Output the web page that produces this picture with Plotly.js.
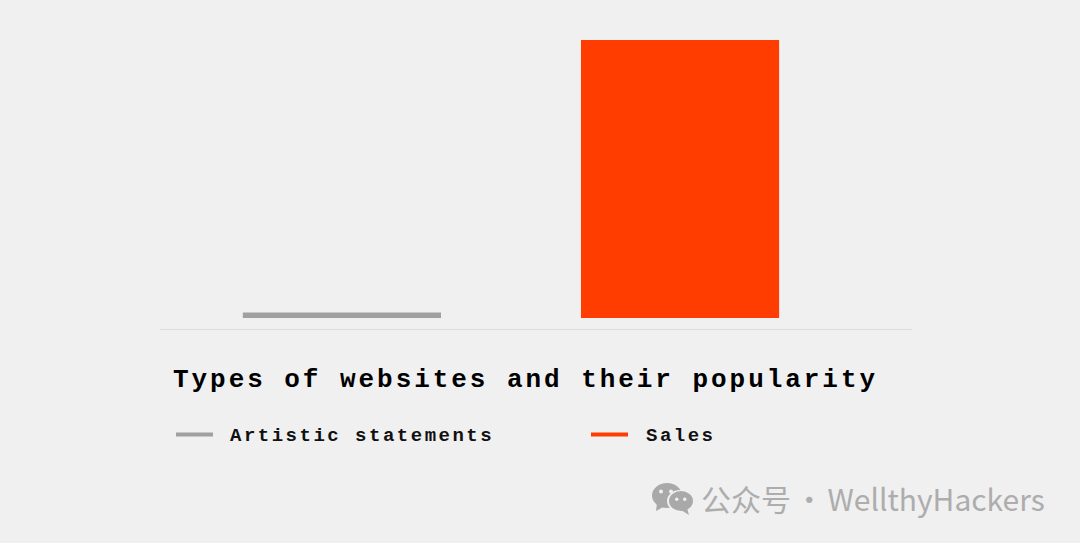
<!DOCTYPE html>
<html><head><meta charset="utf-8">
<script src="https://cdn.plot.ly/plotly-3.0.0.min.js"></script>
<style>
html,body{margin:0;padding:0;background:#f0f0f0;}
#c{width:1080px;height:543px;}
.annotation[data-index="0"] .annotation-text{letter-spacing:2.95px;}
.annotation[data-index="1"] .annotation-text,.annotation[data-index="2"] .annotation-text{letter-spacing:2.5px;}
.annotation[data-index="3"] .annotation-text{word-spacing:-3.5px;}
</style></head><body><div id="c"></div>
<script>
const categories = ["Artistic statements", "Sales"];
const popularity = [2, 100];
const barColors = ["#a0a0a0", "#ff3d00"];
const chartTitle = "Types of websites and their popularity";
const watermark = "公众号 · WellthyHackers";

const W = 1080, H = 543, L = 160, R = 912, T = 40, B = 329;
const px = x => (x - L) / (R - L);
const py = y => (B - y) / (B - T);
const mono = "'Liberation Mono','DejaVu Sans Mono',monospace";
const label = (text, x, y, size, color, family, weight) => ({
  text, xref: "paper", yref: "paper", x: px(x), y: py(y), xanchor: "left", yanchor: "middle",
  showarrow: false, align: "left", font: {family, size, color, weight: weight || 400}
});
const bubble = (x0, y0, x1, y1, color) => ({
  type: "circle", xref: "paper", yref: "paper", x0: px(x0), x1: px(x1), y0: py(y0), y1: py(y1),
  fillcolor: color, line: {width: 0}
});
const swatch = (x0, x1, y, color) => ({
  type: "line", xref: "paper", yref: "paper", x0: px(x0), x1: px(x1), y0: py(y), y1: py(y),
  line: {color, width: 4}
});
const tail = (pts, color) => ({
  type: "path", xref: "paper", yref: "paper",
  path: "M" + pts.map(p => px(p[0]) + "," + py(p[1])).join("L") + "Z",
  fillcolor: color, line: {width: 0}
});
const iconGrey = "#a9a9a9", bg = "#f0f0f0";

Plotly.newPlot("c", [{
  type: "bar", x: categories, y: popularity, width: 0.586,
  marker: {color: barColors, line: {width: 0}}, hoverinfo: "x+y"
}], {
  width: W, height: H, showlegend: false,
  paper_bgcolor: bg, plot_bgcolor: bg,
  margin: {l: L, r: W - R, t: T, b: H - B, pad: 0},
  xaxis: {type: "category", range: [-0.538, 1.686], showticklabels: false, ticks: "",
    showgrid: false, zeroline: false, showline: true, linecolor: "#dddddd", linewidth: 1},
  yaxis: {range: [-3.96, 100], showticklabels: false, ticks: "", showgrid: false, zeroline: false, showline: false},
  annotations: [
    label(chartTitle, 170.5, 380, 26, "#000000", mono, 700),
    label(categories[0], 228, 436, 19, "#111111", mono, 700),
    label(categories[1], 644, 436, 19, "#111111", mono, 700),
    label(watermark, 698.5, 498, 30, "#adadad", "'Noto Sans CJK SC','Noto Sans',sans-serif", 400)
  ],
  shapes: [
    swatch(176, 213, 434.5, barColors[0]),
    swatch(591, 628, 434.5, barColors[1]),
    bubble(652, 483, 682, 508, iconGrey),
    tail([[657, 503], [656, 511], [665, 506]], iconGrey),
    bubble(667, 490, 693, 512, bg),
    bubble(669, 491, 693, 511, iconGrey),
    tail([[687, 508], [689, 515], [681, 510]], iconGrey),
    bubble(659, 489.5, 663, 493.5, bg),
    bubble(669, 489.5, 673, 493.5, bg),
    bubble(675, 497.5, 678.5, 501, bg),
    bubble(683, 497.5, 686.5, 501, bg)
  ]
}, {displayModeBar: false, staticPlot: true});
</script></body></html>
